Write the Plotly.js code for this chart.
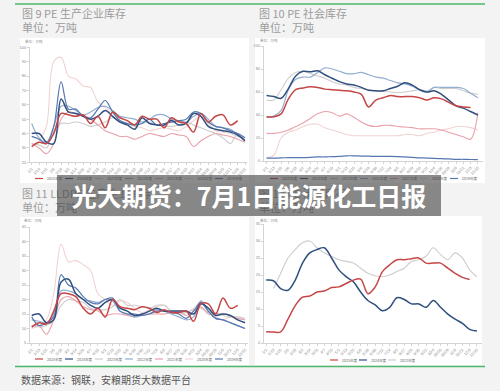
<!DOCTYPE html>
<html><head><meta charset="utf-8">
<script src="https://cdn.plot.ly/plotly-3.0.1.min.js"></script>
<style>html,body{margin:0;padding:0;background:#f3f3f3;}#c{width:500px;height:391px;}</style>
</head><body><div id="c"></div>
<script>
// ---------- tick labels (x categories) ----------
const dateLabels = ["1/1","1/13","1/25","2/6","2/18","3/2","3/14","3/26","4/7","4/19","5/1","5/13","5/25","6/6","6/18","6/30","7/12","7/24","8/5","8/17","8/29","9/10","9/22","10/4","10/16","10/28","11/9","11/21","12/3","12/15"];
const yearNames = ["2025年度","2024年度","2023年度","2022年度","2021年度","2020年度","2019年度"];

// ---------- 图9 PE 生产企业库存 ----------
const pe_prod_2025 = [31,34,33,40,54,53,52,53,47,52,44,55,51,49,46,52,50,50,44,51,48,47,41,54,48,52,53,46,49,null];
const pe_prod_2024 = [40,40,34,33,64,55,54,52,50,52,56,52,48,46,43,51,47,46,46,49,46,47,54,52,45,43,42,41,39,35];
const pe_prod_2023 = [33,32,30,42,47,47,48,47,45,46,48,51,48,47,45,47,48,46,45,45,46,48,46,44,42,40,37,33,40,37];
const pe_prod_2022 = [47,37,34,45,59,59,56,53,55,58,59,56,52,51,50,48,50,53,53,50,49,48,52,54,50,45,44,43,39,35];
const pe_prod_2021 = [33,30,26,33,50,55,54,53,50,46,42,40,38,38,36,38,40,39,38,40,39,38,31,35,38,40,39,38,36,34];
const pe_prod_2020 = [30,35,45,90,93,80,78,73,72,62,58,54,51,49,45,44,42,43,44,43,42,45,49,52,47,42,41,40,38,37];
const pe_prod_2019 = [38,36,33,45,76,57,57,52,51,57,63,55,49,47,46,47,50,46,47,48,49,50,55,54,48,45,44,42,40,37];

// ---------- 图10 PE 社会库存 ----------
const pe_soc_2025 = [38.5,38.5,41,54,62,63.5,64.5,64,62.5,62,61.5,61,60,58,47,53,55,57,56,56,56,55,53,55,54,51,48,47,46.5,null];
const pe_soc_2024 = [57,56,54.5,63,74,78,77.5,78.5,75,72,69,67,66,64,61.5,61,61,63,65,68,66,62,60,61,58,53,48,46,43,40];
const pe_soc_2023 = [53,53,62,72,77,78,76,74,72,69,67,66,64,63,62,61,60.5,60,59.5,60,61,62,61,64,63,63,63,61,59,58];
const pe_soc_2022 = [38,39,44,62,71,73,73,77,81,80,78,76,76,77,75,73,72,70,68,67,65,62,60,64,64,64,64,63,59,55];
const pe_soc_2021 = [24,24,25,27,30,33,37,41,43,42,39,41,38,34,31,30,31,31,30,29.5,29,28,28,28,27,25,23,21,19,42];
const pe_soc_2020 = [3,5,20,25,27,30,32,32,29,27,25,23,22,22,22,22,22,22,22,23,23,22,24,25,27,28,30,30,29,27];
const pe_soc_2019 = [2.5,2.5,2.7,3,3,3,3.2,3.5,3.5,3.8,4,4.5,4.5,4.3,4.2,4,4,4,3.8,3.5,3.2,2.8,2.5,2.2,2,1.8,1.5,1.5,1.3,1.2];

// ---------- 图11 LLDPE 生产企业库存 ----------
const ll_prod_2025 = [10.5,12,11.5,16,22,22,21,17,15,17,14,20,17.5,17,16.5,17.5,17,15.5,16.5,15.5,15.5,16,12.5,18.5,18.5,15,20.5,17,18,null];
const ll_prod_2024 = [14.5,15,12,13,26,27,22,20,18,17,19,20,17,16,14.5,15,16,17,16,16,16,16,15,18.5,17,14.5,15,14.5,13,12];
const ll_prod_2023 = [11,10.5,11,13,18,20,19.5,19,17,16.5,16.5,17.5,20,18,18,17.5,17,18,18,16,15.5,15.5,16.5,17,15.5,15.5,14.5,14,14,13.5];
const ll_prod_2022 = [13,12.5,12,15,23,23,22,20,19.5,19,20,19.5,16,15,14,14.5,15,16.5,16,15,14,13,14,19.5,16,13.5,13,12,11,10];
const ll_prod_2021 = [11,11,8,13,20,21,19.5,17.5,16.5,16,14.5,15,15,14.5,14,15,15,15,15,15.5,16,14.5,16,17.5,15,15,15,14.5,13.5,13];
const ll_prod_2020 = [10,11,13,22,39,33,33.5,32,30,22,20,18,19.5,19,17,15.5,16.5,17.5,18,16,15,15.5,17,19,15.5,14,13,14,13.5,13];
const ll_prod_2019 = [14,11,12,14,28.5,25,24,21,19,18.5,20,20.5,16,15,15,14.5,15,16,16,15.5,15,13.5,16,19,16,13.5,13,12,11,10];

// ---------- 图12 ----------
const pe_port_2025 = [3.3,3.2,3.3,7,11,13.5,13.8,15,15.3,16.3,16.5,17.5,18.5,18.8,14.5,16.5,21,23,24.5,24.5,24.8,25,23.5,23.5,23.5,22,20.5,19.3,18.7,null];
const pe_port_2024 = [18.5,18.3,16,15.5,18.5,23.5,26.5,27.5,28,25,21.5,19.5,18,15,12.5,11.2,9.5,10.5,13.3,12.8,11.5,11.5,10.5,12.5,10.5,8.5,7,5.8,4,3.5];
const pe_port_2023 = [null,16,20.5,25,27.5,29.5,30,28,26.5,25.5,24.5,24,23.5,22,20.5,19.8,19.5,20,21,22,24,24.5,25.5,28,26,24.5,26.5,25,21.5,19.5];

// ---------- styles ----------
const seriesColors = ["#c64646","#2f4f7f","#cdcdcd","#93aed0","#e8a2aa","#f2d3d3","#5577b0"];
const seriesWidths = [1.5,1.5,1.1,1.2,1.1,1.1,1.2];
const drawOrder = [5,2,4,3,6,1,0];

const xIdx = dateLabels.map((_, i) => i);
const charts = [
  {sets:[pe_prod_2025,pe_prod_2024,pe_prod_2023,pe_prod_2022,pe_prod_2021,pe_prod_2020,pe_prod_2019], ax:""},
  {sets:[pe_soc_2025,pe_soc_2024,pe_soc_2023,pe_soc_2022,pe_soc_2021,pe_soc_2020,pe_soc_2019], ax:"2"},
  {sets:[ll_prod_2025,ll_prod_2024,ll_prod_2023,ll_prod_2022,ll_prod_2021,ll_prod_2020,ll_prod_2019], ax:"3"},
  {sets:[pe_port_2025,pe_port_2024,pe_port_2023], ax:"4"}
];

const traces = [];
charts.forEach(c => {
  drawOrder.forEach(k => {
    if (k >= c.sets.length) return;
    traces.push({
      type:"scatter", mode:"lines", x:xIdx, y:c.sets[k], name:yearNames[k],
      xaxis:"x"+c.ax, yaxis:"y"+c.ax, showlegend:false, connectgaps:false,
      line:{color:seriesColors[k], width:seriesWidths[k], shape:"spline", smoothing:1},
      hoverinfo:"skip"
    });
  });
});

const W = 500, H = 391;
const px = v => v / W, py = v => 1 - v / H;
const tickFont = {family:"Arial, Liberation Sans, sans-serif", size:4, color:"#8a8a8a"};
function xa(d0, d1, r0, r1){
  return {domain:[px(d0), px(d1)], range:[r0, r1], showline:true, linecolor:"#d4d4d4", linewidth:1,
    ticks:"outside", ticklen:2, tickcolor:"#d4d4d4", tickangle:-45, tickfont:tickFont,
    tickvals:xIdx, ticktext:dateLabels, showgrid:false, zeroline:false, fixedrange:true};
}
function ya(top, bot, r0, r1, dt){
  return {domain:[py(bot), py(top)], range:[r0, r1], dtick:dt, showline:true, linecolor:"#d4d4d4", linewidth:1,
    ticks:"outside", ticklen:2, tickcolor:"#d4d4d4", tickfont:tickFont, showgrid:false, zeroline:false, fixedrange:true};
}

const cjk = "Noto Sans CJK SC, sans-serif";
const shapes = [
  {type:"rect", xref:"paper", yref:"paper", x0:px(20), x1:px(249), y0:py(183), y1:py(38), fillcolor:"#ffffff", line:{width:0}, layer:"below"},
  {type:"rect", xref:"paper", yref:"paper", x0:px(255), x1:px(485), y0:py(183), y1:py(38), fillcolor:"#ffffff", line:{width:0}, layer:"below"},
  {type:"rect", xref:"paper", yref:"paper", x0:px(20), x1:px(249), y0:py(365), y1:py(217), fillcolor:"#ffffff", line:{width:0}, layer:"below"},
  {type:"rect", xref:"paper", yref:"paper", x0:px(255), x1:px(482), y0:py(365), y1:py(216), fillcolor:"#ffffff", line:{width:0}, layer:"below"},
  {type:"line", xref:"paper", yref:"paper", x0:px(15), x1:px(485), y0:py(4), y1:py(4), line:{color:"#4cb86a", width:1.6}},
  {type:"line", xref:"paper", yref:"paper", x0:px(15), x1:px(485), y0:py(366.5), y1:py(366.5), line:{color:"#4cb86a", width:1.6}}
];

const annotations = [];
function txt(t, x, y, size, color, extra){
  annotations.push(Object.assign({text:t, xref:"paper", yref:"paper", x:px(x), y:py(y), xanchor:"left", yanchor:"middle",
    showarrow:false, font:{family:cjk, size:size, color:color}}, extra||{}));
}
txt("图 9 PE 生产企业库存", 20, 13, 11, "#9c9c9c");
txt("单位：万吨", 20, 27, 11, "#9c9c9c");
txt("图 10 PE 社会库存", 257, 13, 11, "#9c9c9c");
txt("单位：万吨", 257, 27, 11, "#9c9c9c");
txt("图 11 LLDPE 生产企业库存", 20, 193, 11, "#9c9c9c");
txt("单位：万吨", 20, 207, 11, "#9c9c9c");
txt("图 12 PE 港口库存", 257, 193, 11, "#9c9c9c");
txt("单位：万吨", 257, 207, 11, "#9c9c9c");
txt("数据来源：钢联，安粮期货大数据平台", 19, 379, 10, "#555555");
txt("单位：万吨", 23, 41.5, 3.5, "#8a8a8a");
txt("单位：万吨", 258, 40.5, 3.5, "#8a8a8a");
txt("单位：万吨", 22, 221, 3.5, "#8a8a8a");
txt("单位：万吨", 258, 220, 3.5, "#8a8a8a");

// manual legends
const legends = [{n:7, x0:35, dx:30, y:178.5},{n:7, x0:270, dx:30, y:178.5},{n:7, x0:35, dx:30, y:359},{n:3, x0:330, dx:29, y:360}];
legends.forEach(L => {
  for (let k = 0; k < L.n; k++){
    const lx = L.x0 + k * L.dx;
    shapes.push({type:"line", xref:"paper", yref:"paper", x0:px(lx), x1:px(lx+8), y0:py(L.y), y1:py(L.y), line:{color:seriesColors[k], width:1.2}});
    txt(yearNames[k], lx + 10, L.y, 3.6, "#666666");
  }
});

// banner
annotations.push({text:"光大期货：7月1日能源化工日报", xref:"paper", yref:"paper", x:px(249), y:py(195.3), xanchor:"center", yanchor:"middle",
  width:384, height:40.5, bgcolor:"rgba(68,68,68,0.62)", borderpad:0, borderwidth:0, showarrow:false,
  font:{family:cjk, size:25, color:"#ffffff", weight:"bold"}});

const layout = {
  width:W, height:H, margin:{l:0,r:0,t:0,b:0}, paper_bgcolor:"#f3f3f3", plot_bgcolor:"rgba(0,0,0,0)",
  showlegend:false,
  xaxis:xa(30, 247, -0.23, 29.27), yaxis:ya(47.3, 162.3, 20, 100, 10),
  xaxis2:xa(264, 483, -0.35, 29.7), yaxis2:ya(46, 161, 0, 100, 20),
  xaxis3:xa(30, 248, -0.23, 29.4), yaxis3:ya(227, 343, 5, 45, 5),
  xaxis4:xa(264, 482, -0.3, 29.7), yaxis4:ya(224, 343, 0, 35, 5),
  shapes:shapes, annotations:annotations
};
layout.xaxis.anchor="y"; layout.yaxis.anchor="x";
layout.xaxis2.anchor="y2"; layout.yaxis2.anchor="x2";
layout.xaxis3.anchor="y3"; layout.yaxis3.anchor="x3";
layout.xaxis4.anchor="y4"; layout.yaxis4.anchor="x4";

Plotly.newPlot("c", traces, layout, {displayModeBar:false, staticPlot:true});
</script></body></html>
